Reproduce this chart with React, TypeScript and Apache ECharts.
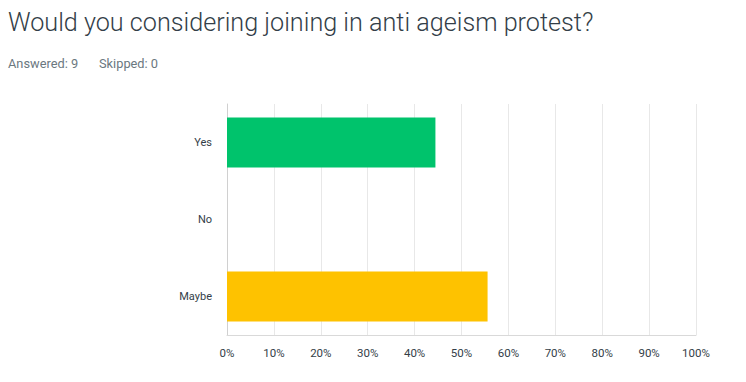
import React, { useEffect, useRef } from "react";
import * as echarts from "echarts";

const titleText = "Would you considering joining in anti ageism protest?";
const answeredText = "Answered: 9";
const skippedText = "Skipped: 0";
const categories = ["Yes", "No", "Maybe"];
const values = [44.44, 0, 55.56];
const colors = ["#00C36C", "#00C36C", "#FEC200"];
const xTicks = [0, 10, 20, 30, 40, 50, 60, 70, 80, 90, 100];

export default function App() {
  const ref = useRef<HTMLDivElement>(null);
  useEffect(() => {
    if (!ref.current) return;
    const chart = echarts.init(ref.current, undefined, { renderer: "svg" });
    chart.setOption({
      animation: false,
      backgroundColor: "#ffffff",
      title: [
        {
          text: titleText,
          left: 8,
          top: 10,
          padding: 0,
          textStyle: { fontFamily: "Roboto", fontWeight: 300, fontSize: 25.2, color: "#333e48" },
        },
        {
          text: answeredText,
          left: 8,
          top: 57,
          padding: 0,
          textStyle: { fontFamily: "Roboto", fontWeight: 400, fontSize: 12.8, color: "#6b787f" },
        },
        {
          text: skippedText,
          left: 99,
          top: 57,
          padding: 0,
          textStyle: { fontFamily: "Roboto", fontWeight: 400, fontSize: 12.8, color: "#6b787f" },
        },
      ],
      grid: { left: 227, right: 50, top: 104, bottom: 47 },
      xAxis: {
        type: "value",
        min: 0,
        max: 100,
        interval: 10,
        axisLine: { show: true, lineStyle: { color: "#d9d9d9", width: 1 } },
        axisTick: { show: false },
        axisLabel: {
          formatter: (v: number) => (xTicks.includes(v) ? v + "%" : ""),
          fontFamily: "Roboto",
          fontSize: 11.5,
          color: "#333e48",
          margin: 12,
        },
        splitLine: { show: true, lineStyle: { color: "#e8e8e8", width: 1 } },
      },
      yAxis: {
        type: "category",
        data: categories,
        inverse: true,
        axisLine: { show: true, lineStyle: { color: "#d0d0d0", width: 1 } },
        axisTick: { show: false },
        axisLabel: { fontFamily: "Roboto", fontSize: 11, color: "#333e48", margin: 15 },
      },
      series: [
        {
          type: "bar",
          data: values.map((v, i) => ({ value: v, itemStyle: { color: colors[i] } })),
          barCategoryGap: "35%",
        },
      ],
    });
    return () => chart.dispose();
  }, []);
  return <div ref={ref} style={{ width: 746, height: 382, position: "absolute", left: 0, top: 0 }} />;
}
